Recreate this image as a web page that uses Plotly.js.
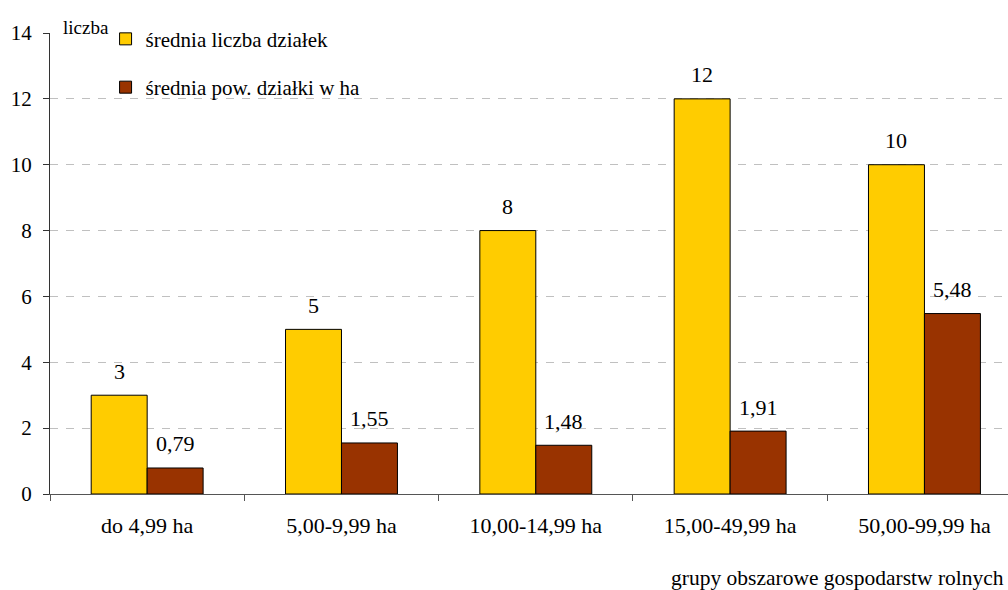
<!DOCTYPE html>
<html>
<head>
<meta charset="utf-8">
<script src="https://cdn.plot.ly/plotly-3.0.1.min.js"></script>
<style>html,body{margin:0;padding:0;background:#fff;}#chart{width:1008px;height:590px;}</style>
</head>
<body>
<div id="chart"></div>
<script>
const categories = ['do 4,99 ha', '5,00-9,99 ha', '10,00-14,99 ha', '15,00-49,99 ha', '50,00-99,99 ha'];
const seriesNames = ['średnia liczba działek', 'średnia pow. działki w ha'];
const avgPlots = [3, 5, 8, 12, 10];
const avgPlotArea = [0.79, 1.55, 1.48, 1.91, 5.48];
const yTicks = [0, 2, 4, 6, 8, 10, 12, 14];

const FONT = 'Liberation Serif';
const bargap = 0.424;
const offset = (1 - bargap) / 4;

function fmt(v) { return String(v).replace('.', ','); }

const traces = [
  {type: 'bar', x: categories, y: avgPlots, name: seriesNames[0], legendgroup: 'a',
   marker: {color: '#FFCC00', line: {color: '#000', width: 1}}, hoverinfo: 'none'},
  {type: 'bar', x: categories, y: avgPlotArea, name: seriesNames[1], legendgroup: 'b',
   marker: {color: '#993300', line: {color: '#000', width: 1}}, hoverinfo: 'none'}
];

const annotations = [];
[avgPlots, avgPlotArea].forEach((arr, s) => {
  arr.forEach((v, i) => {
    annotations.push({x: i + (s === 0 ? -offset : offset), y: v, xref: 'x', yref: 'y',
      text: fmt(v), showarrow: false, yanchor: 'middle', yshift: 24,
      font: {family: FONT, size: 22, color: '#000'}});
  });
});
annotations.push({x: 0.0115, y: 1.0, xref: 'paper', yref: 'paper', xanchor: 'left', yanchor: 'middle',
  yshift: 6, text: 'liczba', showarrow: false, font: {family: FONT, size: 19, color: '#000'}});
annotations.push({x: 1, y: 0, xref: 'paper', yref: 'paper', xanchor: 'right', yanchor: 'middle',
  yshift: -84, xshift: -2, text: 'grupy obszarowe gospodarstw rolnych', showarrow: false,
  font: {family: FONT, size: 21.5, color: '#000'}});

const layout = {
  width: 1008, height: 590,
  margin: {l: 50, r: 0, t: 33, b: 96},
  paper_bgcolor: '#fff', plot_bgcolor: '#fff',
  barmode: 'group', bargap: bargap, bargroupgap: 0,
  separators: ', ',
  font: {family: FONT, size: 22, color: '#000'},
  showlegend: true,
  legend: {x: 0.058, y: 1.031, xanchor: 'left', yanchor: 'top', bgcolor: 'rgba(0,0,0,0)',
    font: {family: FONT, size: 21, color: '#000'}, tracegroupgap: 18, traceorder: 'grouped'},
  xaxis: {type: 'category', range: [-0.5, 4.43], showgrid: false, showline: true, linecolor: '#555', linewidth: 1,
    ticks: 'outside', tickson: 'boundaries', ticklen: 6, tickcolor: '#555', ticklabelstandoff: 12,
    tickfont: {family: FONT, size: 22, color: '#000'}, fixedrange: true},
  yaxis: {range: [0, 14], tickvals: yTicks, ticktext: yTicks.map(String), showgrid: true,
    gridcolor: '#c0c0c0', griddash: '8px,8px', gridwidth: 1, zeroline: false,
    showline: true, linecolor: '#333', linewidth: 1, ticks: 'outside', ticklen: 6, tickcolor: '#333',
    ticklabelstandoff: 7, tickfont: {family: FONT, size: 21, color: '#000'}, fixedrange: true},
  shapes: [{type: 'rect', xref: 'paper', yref: 'paper', x0: 0.003, x1: 0.369,
    y0: (494 - 46) / 461, y1: (494 - 20) / 461, fillcolor: '#fff', line: {width: 0}, layer: 'above'}],
  annotations: annotations
};

Plotly.newPlot('chart', traces, layout, {staticPlot: true, displayModeBar: false});
</script>
</body>
</html>
